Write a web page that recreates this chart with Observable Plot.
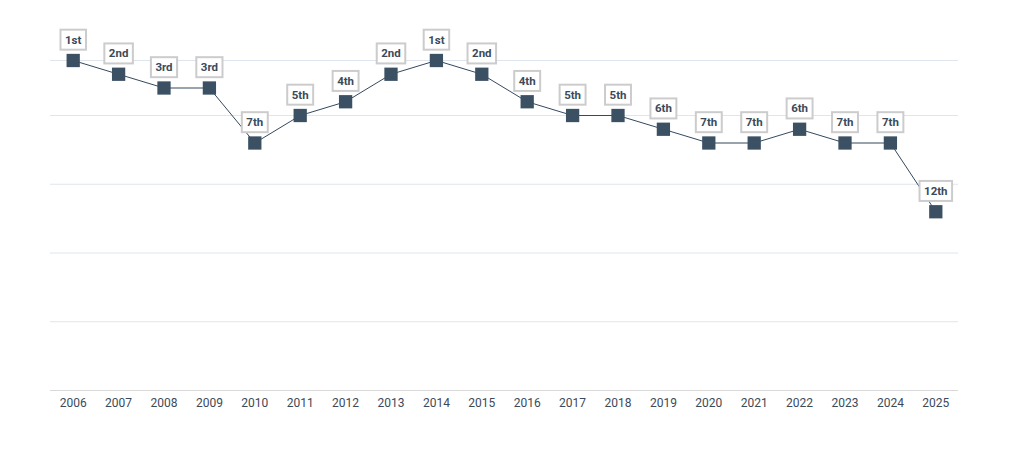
<!DOCTYPE html>
<html>
<head>
<meta charset="utf-8">
<script src="https://cdn.jsdelivr.net/npm/d3@7"></script>
<script src="https://cdn.jsdelivr.net/npm/@observablehq/plot@0.6"></script>
<style>
  html, body { margin: 0; padding: 0; background: #fff; }
  #chart { width: 1009px; height: 460px; }
  svg { font-family: Roboto, "Noto Sans", sans-serif; }
</style>
</head>
<body>
<div id="chart"></div>
<script>
const years = ["2006","2007","2008","2009","2010","2011","2012","2013","2014","2015","2016","2017","2018","2019","2020","2021","2022","2023","2024","2025"];
const ranks = [1,2,3,3,7,5,4,2,1,2,4,5,5,6,7,7,6,7,7,12];
const rankLabels = ["1st","2nd","3rd","3rd","7th","5th","4th","2nd","1st","2nd","4th","5th","5th","6th","7th","7th","6th","7th","7th","12th"];
const gridTicks = [1,5,10,15,20];
const baseTick = [25];

const data = years.map((y, i) => ({year: y, rank: ranks[i], label: rankLabels[i]}));

const plot = Plot.plot({
  width: 1009,
  height: 460,
  marginLeft: 50,
  marginRight: 51,
  marginTop: 60,
  marginBottom: 70,
  style: {fontFamily: "Roboto, sans-serif", background: "#fff"},
  x: {type: "point", domain: years, padding: 0.5, round: false, label: null},
  y: {domain: [1, 25], reverse: true, axis: null},
  marks: [
    Plot.ruleY(gridTicks, {stroke: "#dfe5ee", strokeWidth: 1}),
    Plot.ruleY(baseTick, {stroke: "#d9d9d9", strokeWidth: 1}),
    Plot.axisX({tickSize: 0, tickPadding: 8, fontSize: 12, fill: "#3b4a5a"}),
    Plot.line(data, {x: "year", y: "rank", stroke: "#34495e", strokeWidth: 1}),
    Plot.dot(data, {x: "year", y: "rank", symbol: "square", r: 7.5, fill: "#3c5064", stroke: "none"}),
    Plot.text(data, {x: "year", y: "rank", text: "label", dy: -20.5, fontSize: 11.5, fontWeight: "bold", fill: "#3b4a5a", className: "rank-labels"})
  ]
});

document.getElementById("chart").appendChild(plot);

// Draw boxes behind rank labels, sized to the rendered text
const g = plot.querySelector("g.rank-labels") || plot.querySelector(".rank-labels");
if (g) {
  const texts = Array.from(g.querySelectorAll("text"));
  texts.forEach(t => {
    const bb = t.getBBox();
    const padX = 4.5, padY = 3.5;
    const rect = document.createElementNS("http://www.w3.org/2000/svg", "rect");
    rect.setAttribute("x", bb.x - padX);
    rect.setAttribute("y", bb.y - padY + 0.5);
    rect.setAttribute("width", bb.width + padX * 2);
    rect.setAttribute("height", bb.height + padY * 2 - 1);
    rect.setAttribute("fill", "#ffffff");
    rect.setAttribute("stroke", "#cccccc");
    rect.setAttribute("stroke-width", "2");
    const tr = t.getAttribute("transform");
    if (tr) rect.setAttribute("transform", tr);
    t.parentNode.insertBefore(rect, t);
  });
}
</script>
</body>
</html>
